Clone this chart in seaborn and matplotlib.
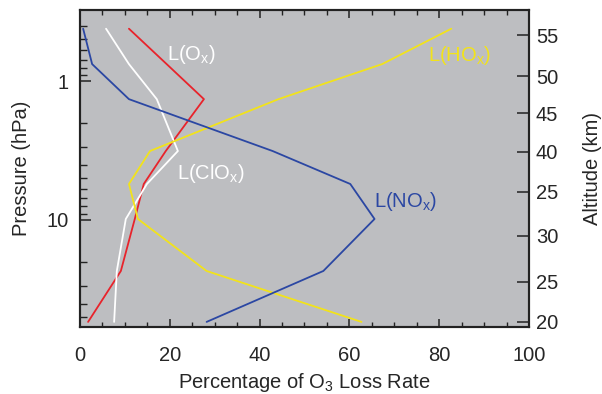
import numpy as np
import pandas as pd
import matplotlib
matplotlib.use("Agg")
import matplotlib.pyplot as plt
from matplotlib.ticker import FixedLocator, NullFormatter, FixedFormatter
import seaborn as sns

# Pressure levels (hPa) of the loss-rate profile
pressure = [0.42, 0.755, 1.35, 3.19, 5.51, 9.84, 23.3, 54.2]

# Percentage of O3 loss rate by family at each level
loss_ox = [10.9, 19.3, 27.6, 19.1, 14.2, 12.2, 9.1, 1.8]
loss_clox = [5.8, 10.9, 17.1, 21.8, 14.9, 10.2, 8.2, 7.6]
loss_hox = [82.7, 67.3, 44.2, 15.6, 10.9, 12.9, 28.2, 62.7]
loss_nox = [0.7, 2.7, 10.9, 42.9, 60.2, 65.6, 54.2, 28.2]

series_names = ["L(Ox)", "L(ClOx)", "L(HOx)", "L(NOx)"]
series_colors = ["#e8232b", "#ffffff", "#f2e31a", "#2b47a3"]

# Altitude axis: labels and the pressure at which each is placed
altitude_labels = ["55", "50", "45", "40", "25", "30", "25", "20"]
altitude_pressure = [0.467, 0.92, 1.70, 3.24, 6.29, 13.0, 27.9, 54.2]

x_ticks = [0, 20, 40, 60, 80, 100]
p_major = [1, 10]

sns.set_theme(style="ticks")
plt.rcParams["font.family"] = ["Liberation Sans", "DejaVu Sans"]
plt.rcParams["mathtext.fontset"] = "custom"
plt.rcParams["mathtext.rm"] = "Liberation Sans"
plt.rcParams["mathtext.it"] = "Liberation Sans"
plt.rcParams["mathtext.bf"] = "Liberation Sans"

frames = []
for name, vals in zip(series_names, [loss_ox, loss_clox, loss_hox, loss_nox]):
    frames.append(pd.DataFrame({"series": name, "loss": vals, "pressure": pressure}))
df = pd.concat(frames, ignore_index=True)

fig = plt.figure(figsize=(6.02, 3.94), dpi=100)
ax = fig.add_axes([0.1329, 0.170, 0.7458, 0.8046])
ax.set_facecolor("#bdbec1")

sns.lineplot(data=df, x="loss", y="pressure", hue="series", hue_order=series_names,
             palette=dict(zip(series_names, series_colors)), estimator=None,
             orient="y", sort=False, legend=False, linewidth=1.3, ax=ax)

ax.set_yscale("log")
ax.set_ylim(59, 0.308)
ax.set_xlim(0, 100)

FS = 14.5
text_kw = dict(fontsize=FS, ha="center", va="center")
ax.text(24.9, 0.64, "L(O$_\\mathregular{x}$)", color="white", **text_kw)
ax.text(29.2, 4.6, "L(ClO$_\\mathregular{x}$)", color="white", **text_kw)
ax.text(84.6, 0.66, "L(HO$_\\mathregular{x}$)", color=series_colors[2], **text_kw)
ax.text(72.5, 7.4, "L(NO$_\\mathregular{x}$)", color=series_colors[3], **text_kw)

ax.xaxis.set_major_locator(FixedLocator(x_ticks))
ax.xaxis.set_minor_locator(FixedLocator(np.arange(0, 101, 5)))
ax.set_xticklabels([str(t) for t in x_ticks])
ax.yaxis.set_major_locator(FixedLocator(p_major))
ax.yaxis.set_major_formatter(FixedFormatter([str(p) for p in p_major]))
minor_p = [v * d for d in (0.1, 1, 10) for v in range(2, 10)]
ax.yaxis.set_minor_locator(FixedLocator(minor_p))
ax.yaxis.set_minor_formatter(NullFormatter())

ax.tick_params(axis="x", which="major", direction="in", length=6, width=1.1,
               top=True, labelsize=FS, pad=14, color="#222222")
ax.tick_params(axis="x", which="minor", direction="in", length=3.5, width=1.0,
               top=True, color="#222222")
ax.tick_params(axis="y", which="major", direction="in", length=8, width=1.1,
               right=False, labelsize=FS, pad=8, color="#222222")
ax.tick_params(axis="y", which="minor", direction="in", length=5, width=1.0,
               right=False, color="#222222")
for s in ax.spines.values():
    s.set_linewidth(1.5)
    s.set_color("#222222")

ax.set_xlabel("Percentage of O$_\\mathregular{3}$ Loss Rate", fontsize=FS, labelpad=4)
ax.set_ylabel("Pressure (hPa)", fontsize=FS, labelpad=11)

ax2 = ax.twinx()
ax2.set_yscale("log")
ax2.set_ylim(ax.get_ylim())
ax2.yaxis.set_major_locator(FixedLocator(altitude_pressure))
ax2.yaxis.set_major_formatter(FixedFormatter(altitude_labels))
ax2.yaxis.set_minor_locator(FixedLocator([]))
ax2.tick_params(axis="y", which="major", direction="in", length=9, width=1.1,
                labelsize=FS, pad=5, color="#222222")
ax2.set_ylabel("Altitude (km)", fontsize=FS, labelpad=18)
for s in ax2.spines.values():
    s.set_linewidth(1.5)
    s.set_color("#222222")

fig.savefig("out.png", dpi=100)
